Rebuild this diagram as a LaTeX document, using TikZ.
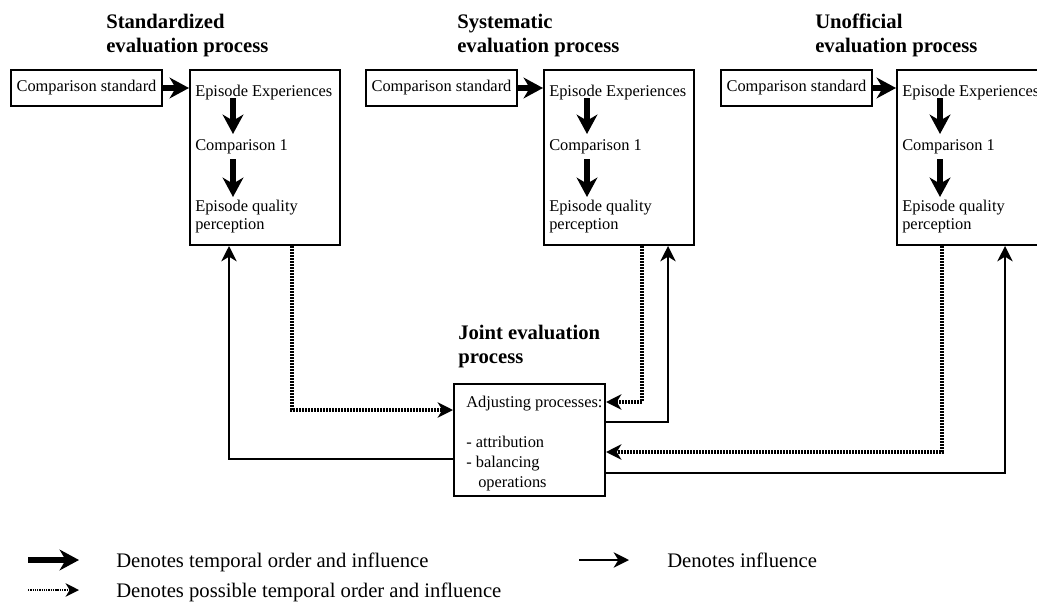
\documentclass[tikz,border=0pt]{standalone}
\usepackage{fontspec}
\setmainfont{Liberation Serif}
\usetikzlibrary{arrows.meta,calc}

\tikzset{
  box/.style={draw, line width=1.5pt, inner sep=0pt},
  txt/.style={inner sep=0pt, anchor=base west, align=left,
              font=\fontsize{12.3}{13.5}\selectfont},
  jtxt/.style={txt, font=\fontsize{12.3}{15}\selectfont},
  heading/.style={inner sep=0pt, anchor=base west, align=left,
                  font=\fontsize{15.5}{18}\selectfont\bfseries},
  legendtxt/.style={inner sep=0pt, anchor=base west,
                    font=\fontsize{15.5}{18}\selectfont},
  temporal/.style={line width=4pt, -{Stealth[length=14.5pt,width=15.5pt,inset=4.5pt]}},
  infl/.style={line width=1.5pt, -{Stealth[length=11.5pt,width=11.5pt,inset=3.5pt]}},
  poss/.style={line width=2.3pt, dash pattern=on 1.5pt off 0.75pt,
               -{Stealth[length=11.5pt,width=11.5pt,inset=3.5pt]}},
  possleg/.style={line width=1.6pt, dash pattern=on 1pt off 0.7pt,
               -{Stealth[length=10pt,width=10pt,inset=3pt]}},
}

\begin{document}
\begin{tikzpicture}[x=0.75pt,y=-0.75pt]
\useasboundingbox (0,0) rectangle (1037,614);
\fill[white] (0,0) rectangle (1037,614);
\clip (0,0) rectangle (1037,614);

% the three evaluation panels (multi-line nodes sit on their last baseline)
\foreach \i/\tx/\cx/\bx/\ttl in {1/106/11/190/Standardized,
                                 2/457/366/544/Systematic,
                                 3/815/721/897/Unofficial}{
  \node[heading] (t\i) at (\tx,52) {\ttl\\evaluation process};
  \node[box, minimum width=113.25pt, minimum height=27pt,
        font=\fontsize{12.3}{13.5}\selectfont] (c\i) at (\cx+75.5,88) {Comparison standard};
  \node[box, minimum width=112.5pt, minimum height=131.25pt] (b\i) at (\bx+75,157.5) {};
  \node[txt] (e\i) at (\bx+5,96) {Episode Experiences};
  \node[txt] (k\i) at (\bx+5,150) {Comparison 1};
  \node[txt] (q\i) at (\bx+5,229) {Episode quality\\perception};
  \draw[temporal] (c\i.east) -- (c\i.east -| b\i.west);
  \draw[temporal] ($(e\i.base west)+(38,2)$) -- ($(k\i.base west)+(38,-16)$);
  \draw[temporal] ($(k\i.base west)+(38,9)$) -- ++(0,38);
}

% joint evaluation
\node[heading] (jt) at (458,363) {Joint evaluation\\process};
\node[box, minimum width=113.25pt, minimum height=84pt] (j) at (529.5,440) {};
\node[jtxt] (ja) at (466,487) {Adjusting processes:\\ \\- attribution\\- balancing\\\hspace*{9pt}operations};

% connectors between the panels and the joint process
\draw[infl] (j.west |- 0,459) -| (229,0 |- b1.south);
\draw[poss] (292,0 |- b1.south) |- (j.west |- 0,410);
\draw[poss] (642,0 |- b2.south) |- (j.east |- 0,402);
\draw[infl] (j.east |- 0,422) -| (668,0 |- b2.south);
\draw[poss] (942,0 |- b3.south) |- (j.east |- 0,452);
\draw[infl] (j.east |- 0,473) -| (1005,0 |- b3.south);

% legend
\coordinate (la1) at (28,560);
\coordinate (la2) at (79,560);
\coordinate (lb1) at (28,590);
\coordinate (lb2) at (79,590);
\coordinate (lc1) at (579,560);
\coordinate (lc2) at (629,560);
\draw[temporal] (la1) -- (la2);
\draw[possleg] (lb1) -- (lb2);
\draw[infl] (lc1) -- (lc2);
\node[legendtxt] (l1) at (116,567) {Denotes temporal order and influence};
\node[legendtxt] (l2) at (116,597) {Denotes possible temporal order and influence};
\node[legendtxt] (l3) at (667,567) {Denotes influence};
\end{tikzpicture}
\end{document}
